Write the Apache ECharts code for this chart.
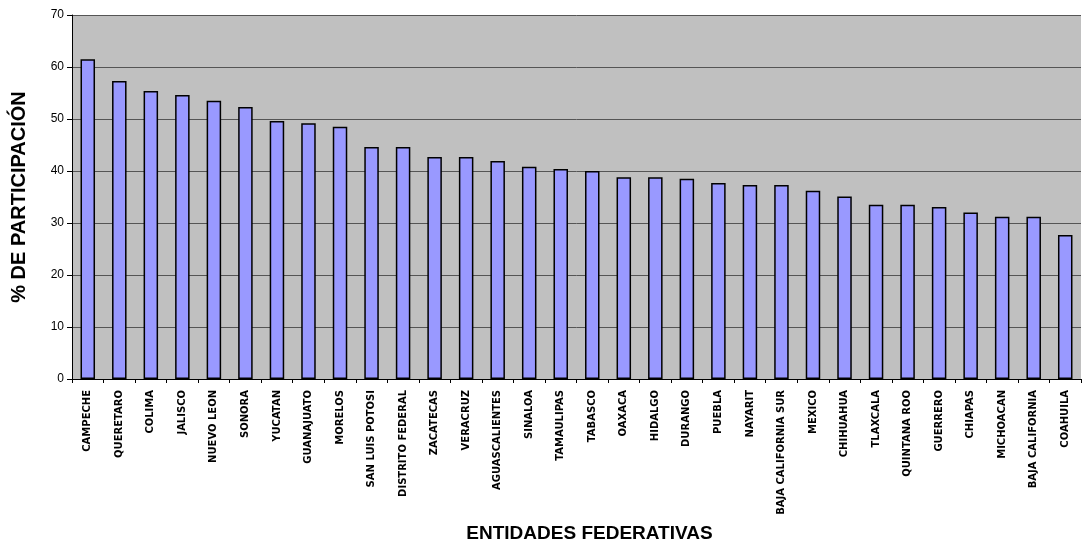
<!DOCTYPE html>
<html>
<head>
<meta charset="utf-8">
<style>
  html, body { margin: 0; padding: 0; background: #fff; }
  #chart { width: 1082px; height: 550px; }
</style>
<script src="https://cdn.jsdelivr.net/npm/echarts@6/dist/echarts.min.js"></script>
</head>
<body>
<div id="chart"></div>
<script>
// entidades federativas, ordenadas de mayor a menor
const estados = [
  "CAMPECHE", "QUERETARO", "COLIMA", "JALISCO", "NUEVO LEON", "SONORA",
  "YUCATAN", "GUANAJUATO", "MORELOS", "SAN LUIS POTOSI", "DISTRITO FEDERAL",
  "ZACATECAS", "VERACRUZ", "AGUASCALIENTES", "SINALOA", "TAMAULIPAS",
  "TABASCO", "OAXACA", "HIDALGO", "DURANGO", "PUEBLA", "NAYARIT",
  "BAJA CALIFORNIA SUR", "MEXICO", "CHIHUAHUA", "TLAXCALA", "QUINTANA ROO",
  "GUERRERO", "CHIAPAS", "MICHOACAN", "BAJA CALIFORNIA", "COAHUILA"
];
// % de participacion
const participacion = [
  61.5, 57.3, 55.4, 54.6, 53.5, 52.3,
  49.6, 49.2, 48.5, 44.6, 44.6,
  42.7, 42.7, 41.9, 40.8, 40.4,
  40.0, 38.8, 38.8, 38.5, 37.7, 37.3,
  37.3, 36.2, 35.1, 33.5, 33.5,
  33.1, 32.0, 31.2, 31.2, 27.7
];
const yMin = 0;
const yMax = 70;
const yInterval = 10;

const font = "'Liberation Sans', Arial, sans-serif";

const chart = echarts.init(document.getElementById("chart"));

chart.setOption({
  animation: false,
  grid: {
    left: 72,
    right: 1,
    top: 15,
    bottom: 171,
    show: true,
    backgroundColor: "#C0C0C0",
    borderWidth: 0,
  },
  xAxis: {
    type: "category",
    data: estados,
    name: "ENTIDADES FEDERATIVAS",
    nameLocation: "middle",
    nameGap: 145,
    nameTextStyle: {
      fontFamily: font,
      fontWeight: "bold",
      fontSize: 19,
      color: "#000",
      padding: [0, 0, 0, 26], // el título va un poco a la derecha del centro
    },
    axisLine: { lineStyle: { color: "#000", width: 1 } },
    axisTick: {
      show: true,
      alignWithLabel: false,
      length: 4,
      lineStyle: { color: "#000" },
    },
    axisLabel: {
      interval: 0,
      rotate: 90,
      margin: 11,
      fontFamily: "'DejaVu Sans', sans-serif",
      fontWeight: "bold",
      fontSize: 10,
      color: "#000",
    },
  },
  yAxis: {
    type: "value",
    min: yMin,
    max: yMax,
    interval: yInterval,
    name: "% DE PARTICIPACIÓN",
    nameLocation: "middle",
    nameGap: 43,
    nameTextStyle: {
      fontFamily: font,
      fontWeight: "bold",
      fontSize: 20,
      color: "#000",
    },
    axisLine: { show: true, lineStyle: { color: "#000", width: 1 } },
    axisTick: { show: true, length: 5, lineStyle: { color: "#000" } },
    axisLabel: {
      fontFamily: font,
      fontSize: 12,
      color: "#000",
      margin: 8,
    },
    splitLine: { show: true, lineStyle: { color: "#555", width: 1 } },
  },
  series: [
    {
      type: "bar",
      data: participacion,
      barWidth: "46%",
      itemStyle: {
        color: "#9999FF",
        borderColor: "#000",
        borderWidth: 1.5,
      },
    },
  ],
});
</script>
</body>
</html>
